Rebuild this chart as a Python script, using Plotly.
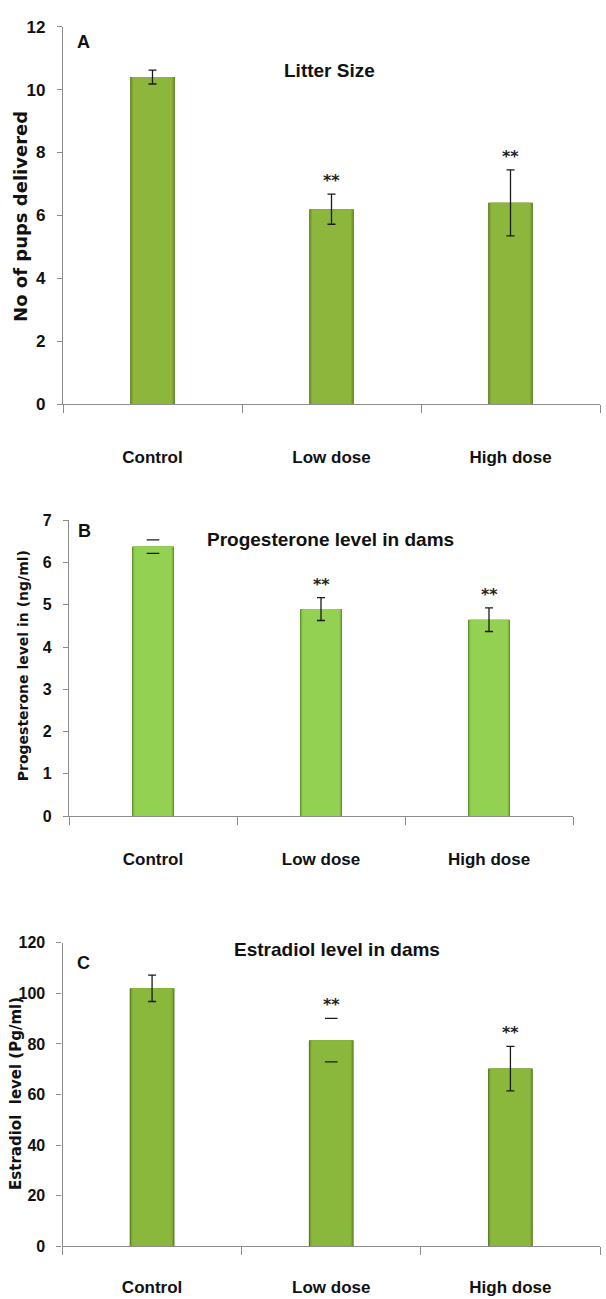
import plotly.graph_objects as go

# ---- data -------------------------------------------------------------
categories = ["Control", "Low dose", "High dose"]
significance = ["", "**", "**"]

litter_mean = [10.4, 6.2, 6.4]
litter_err = [0.22, 0.48, 1.05]

prog_mean = [6.38, 4.9, 4.65]
prog_err = [0.16, 0.27, 0.28]

estr_mean = [102.0, 81.5, 70.3]
estr_err = [5.2, 8.6, 8.8]

# error bars whose stem is not drawn (only the two caps show)
prog_caps_only = [True, False, False]
estr_caps_only = [False, True, False]
litter_caps_only = [False, False, False]

# ---- styling ----------------------------------------------------------
NARROW = "Liberation Sans Narrow, Arial Narrow, Liberation Sans, sans-serif"
WIDE = "DejaVu Sans, Verdana, sans-serif"
AXIS_GREY = "#8c8c8c"
INK = "#1a1a1a"

panels = [
    dict(mean=litter_mean, err=litter_err, caps=litter_caps_only,
         shades=["#5a7a1f", "#7aa22f", "#8cb63c"], yrange=[0, 12], dtick=2,
         xdom=[63 / 606, 600 / 606], ydom=[1 - 401 / 1299, 1 - 18 / 1299],
         title="Litter Size", tx=329, ty=62, letter="A", lx=83, ly=33,
         ytitle="No of pups delivered", ytx=21, yty=211, ytsize=18,
         ticksize=17, catsize=17, catstand=37),
    dict(mean=prog_mean, err=prog_err, caps=prog_caps_only,
         shades=["#63952a", "#7fbc42", "#93d152"], yrange=[0, 7], dtick=1,
         xdom=[69 / 606, 573 / 606], ydom=[1 - 819 / 1299, 1 - 519 / 1299],
         title="Progesterone level in dams", tx=330, ty=538, letter="B",
         lx=84, ly=530, ytitle="Progesterone level in (ng/ml)", ytx=23,
         yty=667, ytsize=14, ticksize=16, catsize=17, catstand=27),
    dict(mean=estr_mean, err=estr_err, caps=estr_caps_only,
         shades=["#5a7a1f", "#79a430", "#8ab83c"], yrange=[0, 120], dtick=20,
         xdom=[62.5 / 606, 600 / 606], ydom=[1 - 1255.7 / 1299, 1 - 947.7 / 1299],
         title="Estradiol level in dams", tx=337, ty=954, letter="C",
         lx=83, ly=968, ytitle="Estradiol  level (Pg/ml)", ytx=16, yty=1101,
         ytsize=15, ticksize=16, catsize=17, catstand=25),
]

W, H = 606, 1299
fig = go.Figure()
annotations = []
layout_axes = {}

for i, p in enumerate(panels, start=1):
    xa = "x" if i == 1 else f"x{i}"
    ya = "y" if i == 1 else f"y{i}"
    xkey = "xaxis" if i == 1 else f"xaxis{i}"
    ykey = "yaxis" if i == 1 else f"yaxis{i}"

    # nested bars of decreasing width give a bevelled, shaded edge
    for shade, w in zip(p["shades"], [0.25, 0.238, 0.222]):
        fig.add_trace(go.Bar(
            x=categories, y=p["mean"], width=w, xaxis=xa, yaxis=ya,
            marker=dict(color=shade, line=dict(width=0)),
            showlegend=False, hoverinfo="skip"))

    # SE bars with stems
    sx = [c for c, f in zip(categories, p["caps"]) if not f]
    sy = [m for m, f in zip(p["mean"], p["caps"]) if not f]
    se = [e for e, f in zip(p["err"], p["caps"]) if not f]
    fig.add_trace(go.Scatter(
        x=sx, y=sy, mode="markers", xaxis=xa, yaxis=ya,
        marker=dict(size=1, opacity=0),
        error_y=dict(type="data", array=se, color=INK, thickness=1.3,
                     width=4, visible=True),
        showlegend=False, hoverinfo="skip"))

    # caps drawn on their own where the stem is missing
    cap_x, cap_y = [], []
    for c, m, e, flag in zip(categories, p["mean"], p["err"], p["caps"]):
        if flag:
            cap_x += [c, c]
            cap_y += [m + e, m - e]
    if cap_x:
        fig.add_trace(go.Scatter(
            x=cap_x, y=cap_y, mode="markers", xaxis=xa, yaxis=ya,
            marker=dict(symbol="line-ew", size=9,
                        line=dict(color=INK, width=1.3)),
            showlegend=False, hoverinfo="skip"))

    layout_axes[xkey] = dict(
        domain=p["xdom"], anchor=ya, type="category",
        categoryorder="array", categoryarray=categories,
        range=[-0.5, 2.5], showline=True, linecolor=AXIS_GREY, linewidth=1.2,
        ticks="outside", tickson="boundaries", ticklen=8,
        tickcolor=AXIS_GREY, ticklabelstandoff=p["catstand"],
        tickfont=dict(family=NARROW, size=p["catsize"], color="#111",
                      weight="bold"),
        showgrid=False, zeroline=False, fixedrange=True)
    layout_axes[ykey] = dict(
        domain=p["ydom"], anchor=xa, range=p["yrange"], dtick=p["dtick"],
        showline=True, linecolor=AXIS_GREY, linewidth=1.2,
        ticks="outside", ticklen=5, tickcolor=AXIS_GREY,
        ticklabelstandoff=8,
        tickfont=dict(family=NARROW, size=p["ticksize"], color="#111",
                      weight="bold"),
        showgrid=False, zeroline=False, fixedrange=True)

    # significance stars above the error bars
    for c, m, e, s in zip(categories, p["mean"], p["err"], significance):
        if s:
            annotations.append(dict(
                x=c, y=m + e, xref=xa, yref=ya, text=s, showarrow=False,
                yanchor="bottom", yshift=2,
                font=dict(family=WIDE, size=16, color="#222", weight="bold")))

    # panel title, panel letter and y-axis title
    annotations.append(dict(
        x=p["tx"] / W, y=1 - p["ty"] / H, xref="paper", yref="paper",
        text=p["title"], showarrow=False, xanchor="center", yanchor="middle",
        font=dict(family=NARROW, size=19, color="#111", weight="bold")))
    annotations.append(dict(
        x=p["lx"] / W, y=1 - p["ly"] / H, xref="paper", yref="paper",
        text=p["letter"], showarrow=False, xanchor="center", yanchor="middle",
        font=dict(family=NARROW, size=18, color="#111", weight="bold")))
    annotations.append(dict(
        x=p["ytx"] / W, y=1 - p["yty"] / H, xref="paper", yref="paper",
        text=p["ytitle"], showarrow=False, textangle=-90,
        xanchor="center", yanchor="middle",
        font=dict(family=WIDE, size=p["ytsize"], color="#111",
                  weight="bold")))

fig.update_layout(
    width=W, height=H, margin=dict(l=0, r=0, t=0, b=0),
    paper_bgcolor="white", plot_bgcolor="white",
    barmode="overlay", annotations=annotations, **layout_axes)

fig.write_html("out.html")
